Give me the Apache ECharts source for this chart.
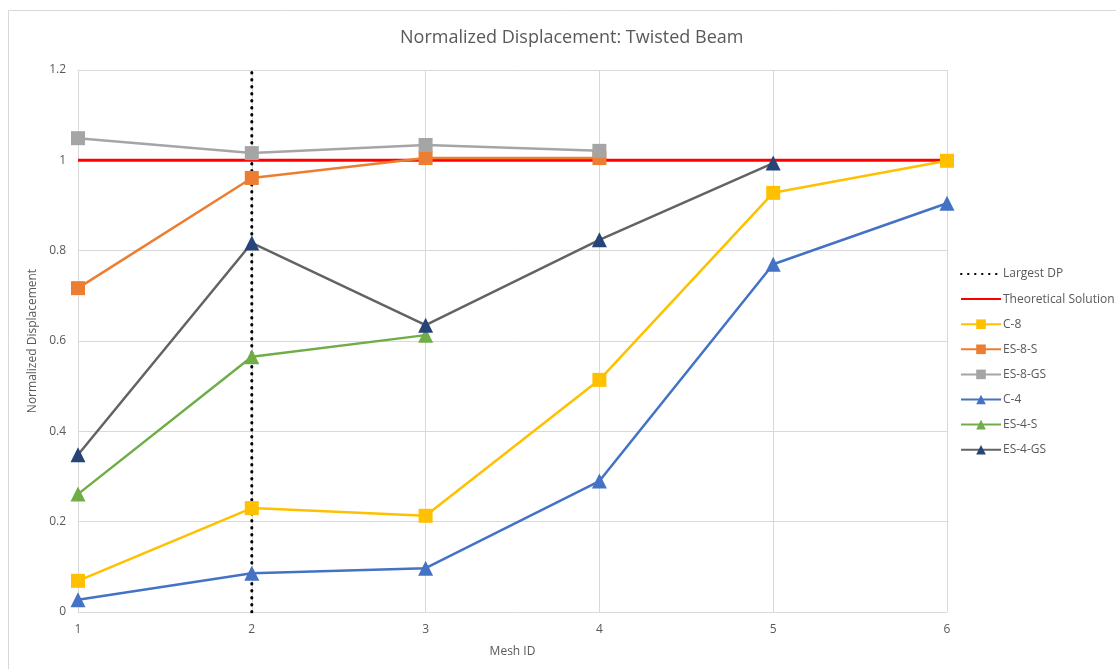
<!DOCTYPE html>
<html>
<head>
<meta charset="utf-8">
<title>Normalized Displacement: Twisted Beam</title>
<script src="https://cdn.jsdelivr.net/npm/echarts@6/dist/echarts.min.js"></script>
<style>
  html, body { margin: 0; padding: 0; background: #ffffff; }
  #chart { width: 1116px; height: 669px; }
</style>
</head>
<body>
<div id="chart"></div>
<script>
// Mesh IDs on the horizontal axis
const meshIds = [1, 2, 3, 4, 5, 6];

// Normalized displacement per mesh (null where a mesh was not run)
const c8      = [0.069, 0.230, 0.213, 0.514, 0.928, 0.999];
const es8s    = [0.717, 0.961, 1.005, 1.005, null, null];
const es8gs   = [1.049, 1.016, 1.034, 1.021, null, null];
const c4      = [0.027, 0.086, 0.097, 0.290, 0.770, 0.905];
const es4s    = [0.261, 0.565, 0.613, null, null, null];
const es4gs   = [0.348, 0.817, 0.635, 0.824, 0.994, null];

// Reference lines
const largestDpMesh = 2;
const theoreticalValue = 1;

// Axis ranges and ticks
const yTicks = [0, 0.2, 0.4, 0.6, 0.8, 1, 1.2];
const xRange = [1, 6];

const pairs = (vals) => meshIds.map((m, i) => [m, vals[i]]).filter(p => p[1] !== null);

const textColor = '#595959';
const gridColor = '#d9d9d9';
const font = 'Open Sans';

function markerSeries(name, vals, lineColor, markColor, symbol, size) {
  return {
    name: name,
    type: 'line',
    data: pairs(vals),
    symbol: symbol,
    symbolSize: size,
    showAllSymbol: true,
    lineStyle: { color: lineColor, width: 2.5 },
    itemStyle: { color: markColor, borderWidth: 0 },
    emphasis: { disabled: true },
    z: 3
  };
}

const chart = echarts.init(document.getElementById('chart'), null, { renderer: 'canvas' });

chart.setOption({
  animation: false,
  backgroundColor: '#ffffff',
  title: {
    text: 'Normalized Displacement: Twisted Beam',
    left: 395,
    top: 24,
    textStyle: { color: textColor, fontSize: 18, fontWeight: 'normal', fontFamily: font }
  },
  graphic: [{
    type: 'rect',
    shape: { x: 8.5, y: 10.5, width: 1300, height: 1000 },
    style: { fill: 'none', stroke: gridColor, lineWidth: 1 },
    silent: true,
    z: -10
  }],
  legend: {
    orient: 'vertical',
    left: 955,
    top: 263,
    itemWidth: 40,
    itemHeight: 12,
    itemGap: 13.1,
    textStyle: { color: textColor, fontSize: 12, fontFamily: font, padding: [0, 0, 0, -3] },
    data: [
      { name: 'Largest DP', itemStyle: { opacity: 0 } },
      { name: 'Theoretical Solution', itemStyle: { opacity: 0 } },
      'C-8', 'ES-8-S', 'ES-8-GS', 'C-4', 'ES-4-S', 'ES-4-GS'
    ]
  },
  grid: { left: 78, right: 169, top: 70, bottom: 57, containLabel: false },
  xAxis: {
    type: 'value',
    min: xRange[0],
    max: xRange[1],
    interval: 1,
    name: 'Mesh ID',
    nameLocation: 'middle',
    nameGap: 34,
    nameTextStyle: { color: textColor, fontSize: 12, fontFamily: font },
    axisLine: { show: true, lineStyle: { color: gridColor, width: 1 } },
    axisTick: { show: false },
    axisLabel: { color: textColor, fontSize: 12, fontFamily: font, margin: 12 },
    splitLine: { show: true, lineStyle: { color: gridColor, width: 1 } }
  },
  yAxis: {
    type: 'value',
    min: yTicks[0],
    max: yTicks[yTicks.length - 1],
    interval: 0.2,
    name: 'Normalized Displacement',
    nameLocation: 'middle',
    nameGap: 35,
    nameTextStyle: { color: textColor, fontSize: 12, fontFamily: font },
    axisLine: { show: false },
    axisTick: { show: false },
    axisLabel: { color: textColor, fontSize: 12, fontFamily: font, margin: 12 },
    splitLine: { show: true, lineStyle: { color: gridColor, width: 1 } }
  },
  series: [
    {
      name: 'Largest DP',
      type: 'line',
      data: [[largestDpMesh, yTicks[0]], [largestDpMesh, yTicks[yTicks.length - 1]]],
      symbol: 'none',
      lineStyle: { color: '#000000', width: 3, type: [0.5, 6.5], cap: 'round' },
      itemStyle: { color: '#000000' },
      emphasis: { disabled: true },
      z: 2
    },
    {
      name: 'Theoretical Solution',
      type: 'line',
      data: [[xRange[0], theoreticalValue], [xRange[1], theoreticalValue]],
      symbol: 'none',
      lineStyle: { color: '#ff0000', width: 3 },
      itemStyle: { color: '#ff0000' },
      emphasis: { disabled: true },
      z: 2
    },
    markerSeries('C-8', c8, '#ffc000', '#ffc000', 'rect', 14),
    markerSeries('ES-8-S', es8s, '#ed7d31', '#ed7d31', 'rect', 14),
    markerSeries('ES-8-GS', es8gs, '#a5a5a5', '#a5a5a5', 'rect', 14),
    markerSeries('C-4', c4, '#4472c4', '#4472c4', 'triangle', 15),
    markerSeries('ES-4-S', es4s, '#70ad47', '#70ad47', 'triangle', 15),
    markerSeries('ES-4-GS', es4gs, '#636363', '#264478', 'triangle', 15)
  ]
});
</script>
</body>
</html>
